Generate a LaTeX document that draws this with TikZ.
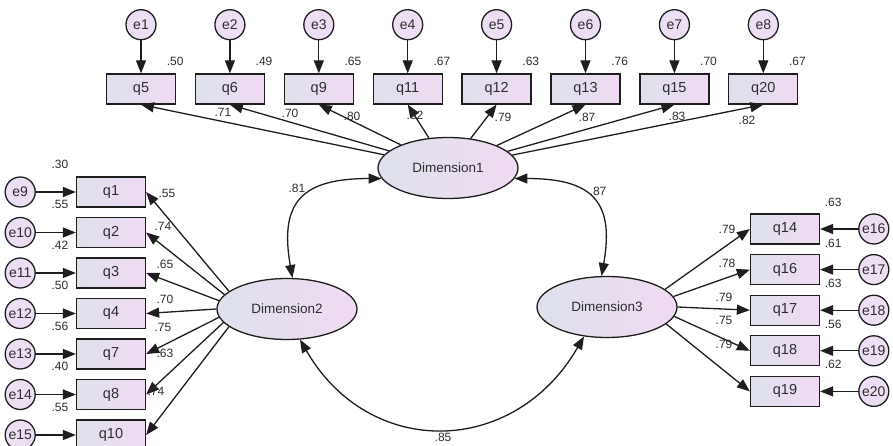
\documentclass[tikz,border=0pt]{standalone}
\usepackage{fontspec}
\setmainfont{Liberation Sans}
\usetikzlibrary{shapes}
\usetikzlibrary{arrows.meta}
\usetikzlibrary{positioning}

\definecolor{boxleft}{RGB}{222,225,236}
\definecolor{boxright}{RGB}{240,218,243}
\definecolor{errfill}{RGB}{237,223,243}
\definecolor{linegray}{RGB}{30,30,30}
\definecolor{numgray}{RGB}{45,45,45}

\begin{document}
\begin{tikzpicture}
                [x=1pt, y=-1pt,
                 obs/.style={rectangle, draw=linegray, line width=1.3pt, left color=boxleft, right color=boxright,
                             minimum width=69pt, minimum height=30pt, inner sep=0pt, text=numgray,
                             font=\fontsize{14.5}{16}\selectfont},
                 err/.style={circle, draw=linegray, line width=1.3pt, fill=errfill, minimum size=30pt,
                             inner sep=0pt, text=numgray, font=\fontsize{14}{16}\selectfont},
                 lat/.style={ellipse, draw=linegray, line width=1.3pt, left color=boxleft, right color=boxright,
                             minimum width=140pt, minimum height=61pt, inner sep=0pt, text=numgray,
                             font=\fontsize{13.5}{15}\selectfont},
                 num/.style={inner sep=0pt, text=numgray, font=\fontsize{12}{14}\selectfont},
                 load/.style={draw=linegray, line width=1.3pt, -{Triangle[length=13pt,width=10pt]}},
                 cov/.style={draw=linegray, line width=1.3pt,
                             {Triangle[length=13pt,width=10pt]}-{Triangle[length=13pt,width=10pt]}}]
                \useasboundingbox (0,0) rectangle (893,446);
                % latent factors
                \node[lat] (dim1) at (448,168) {Dimension1};
                \node[lat] (dim2) at (287,309) {Dimension2};
                \node[lat] (dim3) at (607,307) {Dimension3};
                % top row
                \node[obs] (q5) at (141,89) {q5};
                \node[obs] (q6) [right=18.6pt of q5] {q6};
                \node[obs] (q9) [right=18.6pt of q6] {q9};
                \node[obs] (q11) [right=18.6pt of q9] {q11};
                \node[obs] (q12) [right=18.6pt of q11] {q12};
                \node[obs] (q13) [right=18.6pt of q12] {q13};
                \node[obs] (q15) [right=18.6pt of q13] {q15};
                \node[obs] (q20) [right=18.6pt of q15] {q20};
                \node[err] (e1) [above=33pt of q5] {e1};
                \node[err] (e2) [above=33pt of q6] {e2};
                \node[err] (e3) [above=33pt of q9] {e3};
                \node[err] (e4) [above=33pt of q11] {e4};
                \node[err] (e5) [above=33pt of q12] {e5};
                \node[err] (e6) [above=33pt of q13] {e6};
                \node[err] (e7) [above=33pt of q15] {e7};
                \node[err] (e8) [above=33pt of q20] {e8};
                % left column
                \node[obs] (q1) at (111,192) {q1};
                \node[obs] (q2) [below=9.2pt of q1] {q2};
                \node[obs] (q3) [below=9.2pt of q2] {q3};
                \node[obs] (q4) [below=9.2pt of q3] {q4};
                \node[obs] (q7) [below=9.2pt of q4] {q7};
                \node[obs] (q8) [below=9.2pt of q7] {q8};
                \node[obs] (q10) [below=9.2pt of q8] {q10};
                \node[err] (e9) [left=40pt of q1] {e9};
                \node[err] (e10) [left=40pt of q2] {e10};
                \node[err] (e11) [left=40pt of q3] {e11};
                \node[err] (e12) [left=40pt of q4] {e12};
                \node[err] (e13) [left=40pt of q7] {e13};
                \node[err] (e14) [left=40pt of q8] {e14};
                \node[err] (e15) [left=40pt of q10] {e15};
                % right column
                \node[obs] (q14) at (785,229) {q14};
                \node[obs] (q16) [below=9.3pt of q14] {q16};
                \node[obs] (q17) [below=9.3pt of q16] {q17};
                \node[obs] (q18) [below=9.3pt of q17] {q18};
                \node[obs] (q19) [below=9.3pt of q18] {q19};
                \node[err] (e16) [right=38pt of q14] {e16};
                \node[err] (e17) [right=38pt of q16] {e17};
                \node[err] (e18) [right=38pt of q17] {e18};
                \node[err] (e19) [right=38pt of q18] {e19};
                \node[err] (e20) [right=38pt of q19] {e20};
                % error paths
                \draw[load] (e1) -- (q5);
                \draw[load] (e2) -- (q6);
                \draw[load] (e3) -- (q9);
                \draw[load] (e4) -- (q11);
                \draw[load] (e5) -- (q12);
                \draw[load] (e6) -- (q13);
                \draw[load] (e7) -- (q15);
                \draw[load] (e8) -- (q20);
                \draw[load] (e9) -- (q1);
                \draw[load] (e10) -- (q2);
                \draw[load] (e11) -- (q3);
                \draw[load] (e12) -- (q4);
                \draw[load] (e13) -- (q7);
                \draw[load] (e14) -- (q8);
                \draw[load] (e15) -- (q10);
                \draw[load] (e16) -- (q14);
                \draw[load] (e17) -- (q16);
                \draw[load] (e18) -- (q17);
                \draw[load] (e19) -- (q18);
                \draw[load] (e20) -- (q19);
                % loadings
                \draw[load] (dim1) -- (q5.south);
                \draw[load] (dim1) -- (q6.south);
                \draw[load] (dim1) -- (q9.south);
                \draw[load] (dim1) -- (q11.south);
                \draw[load] (dim1) -- (q12.south);
                \draw[load] (dim1) -- (q13.south);
                \draw[load] (dim1) -- (q15.south);
                \draw[load] (dim1) -- (q20.south);
                \draw[load] (dim2.163) -- (q1.east);
                \draw[load] (dim2.167) -- (q2.east);
                \draw[load] (dim2.173) -- (q3.east);
                \draw[load] (dim2.180) -- (q4.east);
                \draw[load] (dim2.187) -- (q7.east);
                \draw[load] (dim2.192) -- (q8.east);
                \draw[load] (dim2.197) -- (q10.east);
                \draw[load] (dim3.17) -- (q14.west);
                \draw[load] (dim3.9) -- (q16.west);
                \draw[load] (dim3.0) -- (q17.west);
                \draw[load] (dim3.352) -- (q18.west);
                \draw[load] (dim3.344) -- (q19.west);
                % covariances
                \draw[cov] (dim1.189) to[out=180, in=100, looseness=1.5] (dim2.80);
                \draw[cov] (dim1.351) to[out=0, in=80, looseness=1.5] (dim3.100);
                \draw[cov] (dim2.293) to[out=-60, in=240, looseness=1.25] (dim3.232);
                \node[num] (c12) at (297,188) {.81};
                \node[num] (c13) at (598,191) {.87};
                \node[num] (c23) at (443,437) {.85};
                % squared multiple correlations
                \node[num] (rq5) at ([xshift=-1pt,yshift=12pt]q5.north east) {.50};
                \node[num] (rq6) at ([xshift=-1pt,yshift=12pt]q6.north east) {.49};
                \node[num] (rq9) at ([xshift=-1pt,yshift=12pt]q9.north east) {.65};
                \node[num] (rq11) at ([xshift=-1pt,yshift=12pt]q11.north east) {.67};
                \node[num] (rq12) at ([xshift=-1pt,yshift=12pt]q12.north east) {.63};
                \node[num] (rq13) at ([xshift=-1pt,yshift=12pt]q13.north east) {.76};
                \node[num] (rq15) at ([xshift=-1pt,yshift=12pt]q15.north east) {.70};
                \node[num] (rq20) at ([xshift=-1pt,yshift=12pt]q20.north east) {.67};
                \node[num] (rq1) at ([xshift=-16pt,yshift=12pt]q1.north west) {.30};
                \node[num] (rq2) at ([xshift=-16pt,yshift=12pt]q2.north west) {.55};
                \node[num] (rq3) at ([xshift=-16pt,yshift=12pt]q3.north west) {.42};
                \node[num] (rq4) at ([xshift=-16pt,yshift=12pt]q4.north west) {.50};
                \node[num] (rq7) at ([xshift=-16pt,yshift=12pt]q7.north west) {.56};
                \node[num] (rq8) at ([xshift=-16pt,yshift=12pt]q8.north west) {.40};
                \node[num] (rq10) at ([xshift=-16pt,yshift=12pt]q10.north west) {.55};
                \node[num] (rq14) at ([xshift=13pt,yshift=11pt]q14.north east) {.63};
                \node[num] (rq16) at ([xshift=13pt,yshift=11pt]q16.north east) {.61};
                \node[num] (rq17) at ([xshift=13pt,yshift=11pt]q17.north east) {.63};
                \node[num] (rq18) at ([xshift=13pt,yshift=11pt]q18.north east) {.56};
                \node[num] (rq19) at ([xshift=13pt,yshift=11pt]q19.north east) {.62};
                % factor loadings
                \node[num] (lq5) at (223,112) {.71};
                \node[num] (lq6) at (290,113) {.70};
                \node[num] (lq9) at (352,116) {.80};
                \node[num] (lq11) at (415,115) {.82};
                \node[num] (lq12) at (503,117) {.79};
                \node[num] (lq13) at (587,117) {.87};
                \node[num] (lq15) at (677,116) {.83};
                \node[num] (lq20) at (747,120) {.82};
                \node[num] (lq1) at (167,193) {.55};
                \node[num] (lq2) at (163,226) {.74};
                \node[num] (lq3) at (165,264) {.65};
                \node[num] (lq4) at (165,299) {.70};
                \node[num] (lq7) at (163,327) {.75};
                \node[num] (lq8) at (165,353) {.63};
                \node[num] (lq10) at (156,391) {.74};
                \node[num] (lq14) at (727,229) {.79};
                \node[num] (lq16) at (727,263) {.78};
                \node[num] (lq17) at (724,297) {.79};
                \node[num] (lq18) at (724,320) {.75};
                \node[num] (lq19) at (724,344) {.79};
            \end{tikzpicture}
\end{document}
